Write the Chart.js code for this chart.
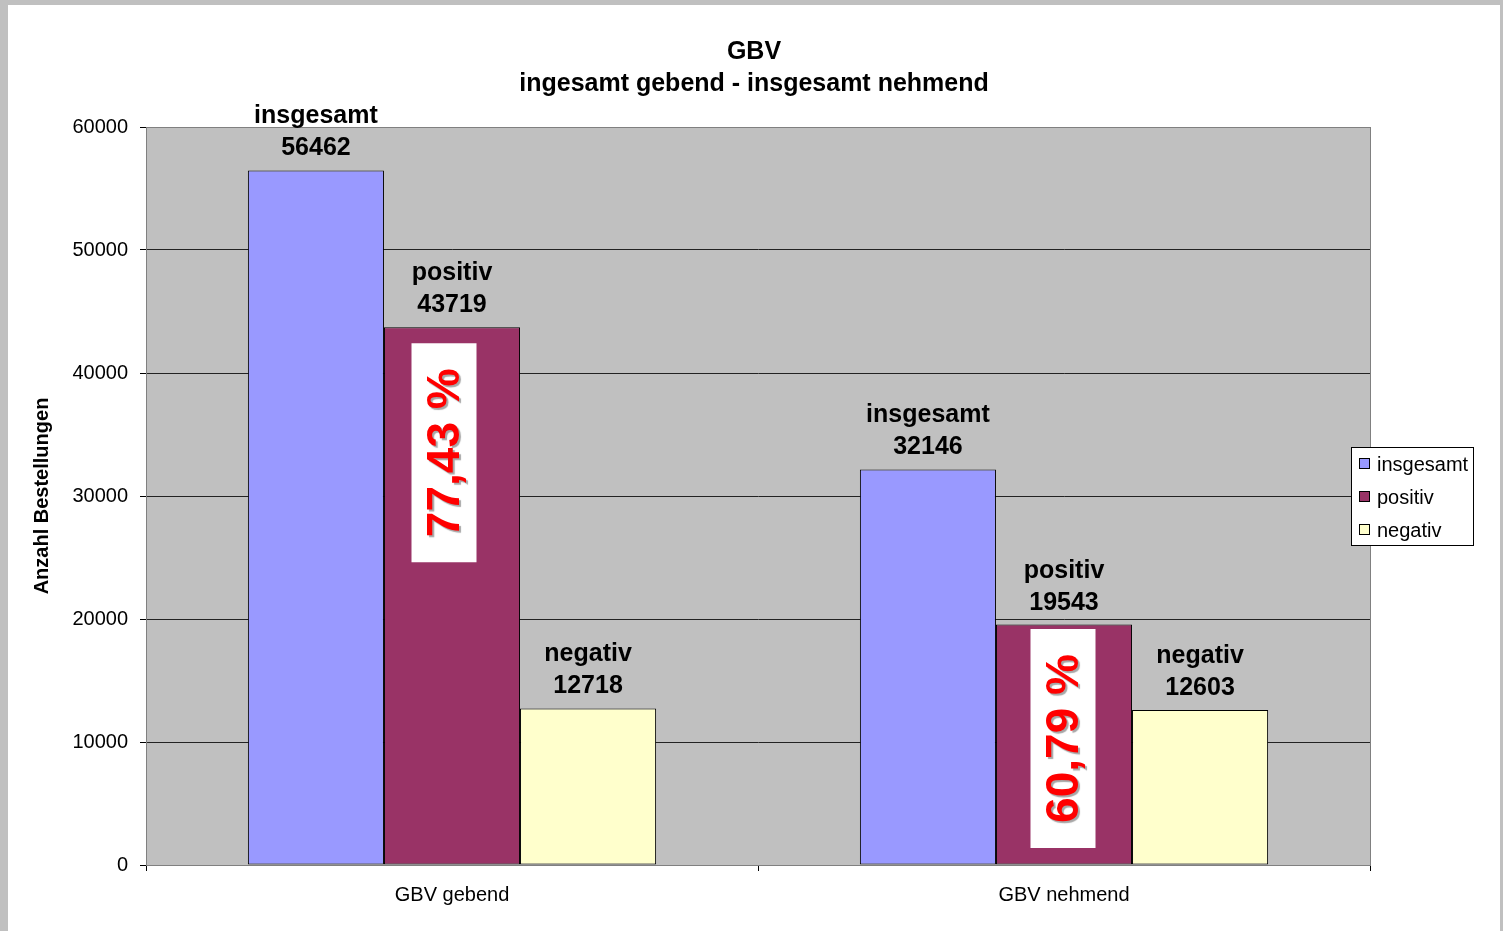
<!DOCTYPE html>
<html>
<head>
<meta charset="utf-8">
<script src="https://cdn.jsdelivr.net/npm/chart.js@4/dist/chart.umd.min.js"></script>
<style>
  html, body { margin: 0; padding: 0; background: #c0c0c0; }
  #wrap { position: absolute; left: 8px; top: 5px; width: 1492px; height: 926px; background: #fff; }
</style>
</head>
<body>
<div id="wrap"><canvas id="chart" width="1492" height="926"></canvas></div>
<script>
// chart data
const categories = ['GBV gebend', 'GBV nehmend'];
const seriesNames = ['insgesamt', 'positiv', 'negativ'];
const insgesamtValues = [56462, 32146];
const positivValues = [43719, 19543];
const negativValues = [12718, 12603];
const percentLabels = ['77,43 %', '60,79 %'];
const titleLines = ['GBV', 'ingesamt gebend - insgesamt nehmend'];
const yAxisTitle = 'Anzahl Bestellungen';

const seriesColors = ['#9999ff', '#993366', '#ffffcc'];
const FONT = "'Liberation Sans', Arial, sans-serif";
const boxShift = [-8, -1]; // the white boxes are not quite centred on the bars

// background, title, labels, percentage boxes and legend
const excelLook = {
    id: 'excelLook',
    beforeDraw(chart) {
        const { ctx, chartArea: a } = chart;
        ctx.save();
        ctx.fillStyle = '#fff';
        ctx.fillRect(0, 0, chart.width, chart.height);
        ctx.fillStyle = '#c0c0c0';
        ctx.fillRect(a.left, a.top, a.right - a.left, a.bottom - a.top);
        ctx.restore();
    },
    beforeDatasetsDraw(chart) {
        const { ctx, chartArea: a } = chart;
        ctx.save();
        ctx.strokeStyle = '#808080';
        ctx.lineWidth = 1;
        ctx.strokeRect(a.left + 0.5, a.top + 0.5, a.right - a.left, a.bottom - a.top);
        ctx.restore();
    },
    afterDatasetsDraw(chart) {
        const { ctx, chartArea: a } = chart;
        ctx.save();
        // value labels above bars
        ctx.fillStyle = '#000';
        ctx.font = `bold 25px ${FONT}`;
        ctx.textAlign = 'center';
        ctx.textBaseline = 'middle';
        chart.data.datasets.forEach((ds, i) => {
            chart.getDatasetMeta(i).data.forEach((bar, j) => {
                ctx.fillText(ds.label, bar.x, bar.y - 54);
                ctx.fillText(String(ds.data[j]), bar.x, bar.y - 22);
            });
        });
        // percentage boxes in the "positiv" bars
        const boxW = 65, boxH = 219;
        chart.getDatasetMeta(1).data.forEach((bar, j) => {
            const top = Math.min(bar.y + 16, a.bottom - 17 - boxH);
            const cx = bar.x + boxShift[j];
            ctx.fillStyle = '#fff';
            ctx.fillRect(cx - boxW / 2, top, boxW, boxH);
            ctx.save();
            ctx.translate(cx + 2, top + boxH / 2);
            ctx.rotate(-Math.PI / 2);
            ctx.font = `bold 46px ${FONT}`;
            ctx.fillStyle = '#ff0000';
            ctx.shadowColor = 'rgba(0,0,0,0.35)';
            ctx.shadowOffsetX = 2;
            ctx.shadowOffsetY = 2;
            ctx.shadowBlur = 1;
            ctx.fillText(percentLabels[j], 0, 0);
            ctx.restore();
        });
        ctx.restore();
    },
    afterDraw(chart) {
        const { ctx } = chart;
        ctx.save();
        // title
        ctx.fillStyle = '#000';
        ctx.font = `bold 25px ${FONT}`;
        ctx.textAlign = 'center';
        ctx.textBaseline = 'middle';
        ctx.fillText(titleLines[0], 746, 47);
        ctx.fillText(titleLines[1], 746, 79);
        // legend
        const lx = 1343, ly = 442, lw = 122, lh = 98;
        ctx.fillStyle = '#fff';
        ctx.fillRect(lx, ly, lw, lh);
        ctx.strokeStyle = '#000';
        ctx.lineWidth = 1;
        ctx.strokeRect(lx + 0.5, ly + 0.5, lw, lh);
        ctx.font = `20px ${FONT}`;
        ctx.textAlign = 'left';
        chart.data.datasets.forEach((ds, i) => {
            const y = ly + 17 + i * 33;
            ctx.fillStyle = ds.backgroundColor;
            ctx.fillRect(lx + 8.5, y - 5.5, 10, 10);
            ctx.strokeStyle = '#000';
            ctx.strokeRect(lx + 8.5, y - 5.5, 10, 10);
            ctx.fillStyle = '#000';
            ctx.fillText(ds.label, lx + 26, y + 1);
        });
        ctx.restore();
    }
};

const ctx = document.getElementById('chart').getContext('2d');
new Chart(ctx, {
    type: 'bar',
    data: {
        labels: categories,
        datasets: [insgesamtValues, positivValues, negativValues].map((values, i) => ({
            label: seriesNames[i],
            data: values,
            backgroundColor: seriesColors[i],
            borderColor: '#000',
            borderWidth: 1,
            borderSkipped: false,
            barPercentage: 1,
            categoryPercentage: 0.667
        }))
    },
    options: {
        responsive: false,
        devicePixelRatio: 1,
        animation: false,
        layout: { padding: { top: 122, right: 130, left: 0, bottom: 0 } },
        plugins: {
            legend: { display: false },
            title: { display: false },
            tooltip: { enabled: false }
        },
        scales: {
            x: {
                offset: true,
                grid: {
                    offset: true,
                    drawOnChartArea: false,
                    drawTicks: true,
                    tickLength: 6,
                    tickColor: '#000'
                },
                border: { color: '#000', width: 1 },
                ticks: { color: '#000', padding: 12, font: { family: FONT, size: 20 } },
                afterFit(scale) { scale.height = 66; }
            },
            y: {
                min: 0,
                max: 60000,
                ticks: {
                    stepSize: 10000,
                    color: '#000',
                    padding: 12,
                    font: { family: FONT, size: 20 },
                    callback: value => String(value)
                },
                grid: {
                    color: ctx => (ctx.tick && ctx.tick.value === 60000 ? '#808080' : '#222'),
                    lineWidth: 1,
                    tickLength: 6,
                    tickColor: '#000'
                },
                border: { color: '#333', width: 1 },
                title: {
                    display: true,
                    text: yAxisTitle,
                    color: '#000',
                    font: { family: FONT, size: 20, weight: 'bold' },
                    padding: { top: 22, bottom: 0 }
                },
                afterFit(scale) { scale.width = 138; }
            }
        }
    },
    plugins: [excelLook]
});
</script>
</body>
</html>
